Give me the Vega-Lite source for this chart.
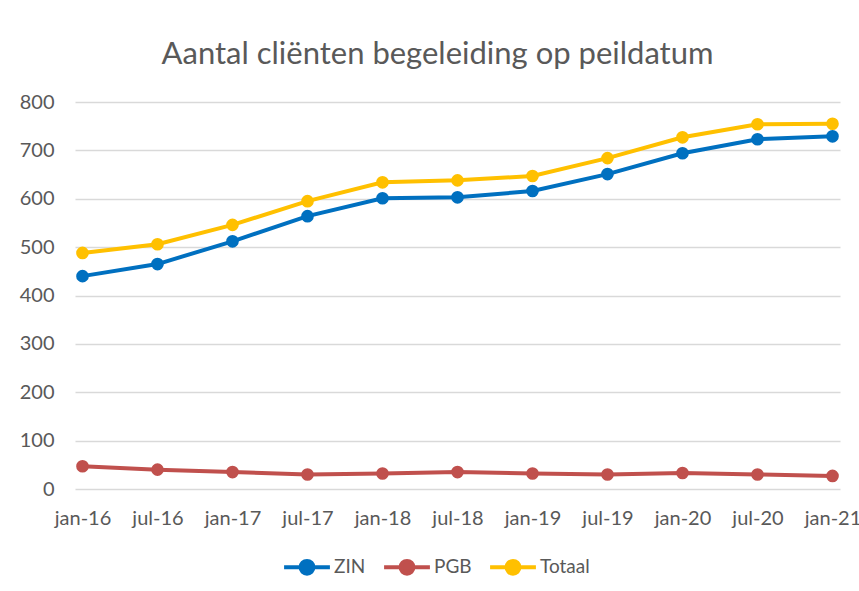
{
  "$schema": "https://vega.github.io/schema/vega-lite/v6.json",
  "autosize": "none",
  "width": 765,
  "height": 387,
  "padding": {"left": 75, "top": 102, "right": 19, "bottom": 102},
  "background": "white",
  "title": {
    "text": "Aantal cliënten begeleiding op peildatum",
    "font": "Lato",
    "fontSize": 31,
    "fontWeight": "normal",
    "color": "#595959",
    "anchor": "middle",
    "dx": -20,
    "offset": 21
  },
  "data": {
    "values": [
      {"datum": "jan-16", "reeks": "ZIN", "aantal": 440},
      {"datum": "jul-16", "reeks": "ZIN", "aantal": 465},
      {"datum": "jan-17", "reeks": "ZIN", "aantal": 512},
      {"datum": "jul-17", "reeks": "ZIN", "aantal": 564},
      {"datum": "jan-18", "reeks": "ZIN", "aantal": 601},
      {"datum": "jul-18", "reeks": "ZIN", "aantal": 603},
      {"datum": "jan-19", "reeks": "ZIN", "aantal": 616},
      {"datum": "jul-19", "reeks": "ZIN", "aantal": 651},
      {"datum": "jan-20", "reeks": "ZIN", "aantal": 694},
      {"datum": "jul-20", "reeks": "ZIN", "aantal": 723},
      {"datum": "jan-21", "reeks": "ZIN", "aantal": 729},
      {"datum": "jan-16", "reeks": "PGB", "aantal": 47},
      {"datum": "jul-16", "reeks": "PGB", "aantal": 40},
      {"datum": "jan-17", "reeks": "PGB", "aantal": 35},
      {"datum": "jul-17", "reeks": "PGB", "aantal": 30},
      {"datum": "jan-18", "reeks": "PGB", "aantal": 32},
      {"datum": "jul-18", "reeks": "PGB", "aantal": 35},
      {"datum": "jan-19", "reeks": "PGB", "aantal": 32},
      {"datum": "jul-19", "reeks": "PGB", "aantal": 30},
      {"datum": "jan-20", "reeks": "PGB", "aantal": 33},
      {"datum": "jul-20", "reeks": "PGB", "aantal": 30},
      {"datum": "jan-21", "reeks": "PGB", "aantal": 27},
      {"datum": "jan-16", "reeks": "Totaal", "aantal": 488},
      {"datum": "jul-16", "reeks": "Totaal", "aantal": 506},
      {"datum": "jan-17", "reeks": "Totaal", "aantal": 546},
      {"datum": "jul-17", "reeks": "Totaal", "aantal": 595},
      {"datum": "jan-18", "reeks": "Totaal", "aantal": 634},
      {"datum": "jul-18", "reeks": "Totaal", "aantal": 638},
      {"datum": "jan-19", "reeks": "Totaal", "aantal": 647},
      {"datum": "jul-19", "reeks": "Totaal", "aantal": 684},
      {"datum": "jan-20", "reeks": "Totaal", "aantal": 727},
      {"datum": "jul-20", "reeks": "Totaal", "aantal": 754},
      {"datum": "jan-21", "reeks": "Totaal", "aantal": 755}
    ]
  },
  "mark": {"type": "line", "strokeWidth": 4, "point": {"filled": true, "size": 160, "opacity": 1}},
  "encoding": {
    "x": {
      "field": "datum",
      "type": "ordinal",
      "sort": null,
      "scale": {"type": "point", "padding": 0.1},
      "axis": {
        "title": null,
        "labelAngle": 0,
        "domain": false,
        "ticks": false,
        "grid": false,
        "labelFont": "Lato",
        "labelFontSize": 20,
        "labelColor": "#595959",
        "labelPadding": 19
      }
    },
    "y": {
      "field": "aantal",
      "type": "quantitative",
      "scale": {"domain": [0, 800], "nice": false},
      "axis": {
        "title": null,
        "values": [0, 100, 200, 300, 400, 500, 600, 700, 800],
        "domain": false,
        "ticks": false,
        "grid": true,
        "gridColor": "#d9d9d9",
        "gridWidth": 1.3,
        "labelFont": "Lato",
        "labelFontSize": 20,
        "labelColor": "#595959",
        "labelPadding": 21
      }
    },
    "color": {
      "field": "reeks",
      "type": "nominal",
      "scale": {"domain": ["ZIN", "PGB", "Totaal"], "range": ["#0070C0", "#C0504D", "#FFC000"]},
      "legend": {
        "title": null,
        "orient": "none",
        "direction": "horizontal",
        "legendX": 207,
        "legendY": 440,
        "symbolType": "M -1 0 L 1 0 M -0.28 0 A 0.28 0.28 0 1 1 0.28 0 A 0.28 0.28 0 1 1 -0.28 0 Z",
        "symbolSize": 2100,
        "symbolStrokeWidth": 4,
        "labelFont": "Lato",
        "labelFontSize": 19,
        "labelColor": "#595959",
        "labelOffset": 2,
        "columnPadding": 10
      }
    }
  },
  "config": {"view": {"stroke": null}}
}
